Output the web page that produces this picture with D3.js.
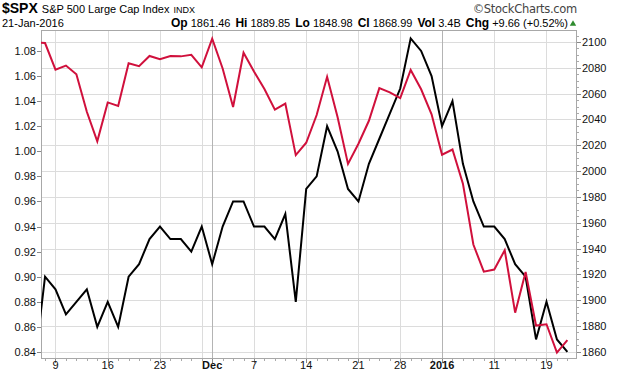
<!DOCTYPE html>
<html>
<head>
<meta charset="utf-8">
<script src="https://cdn.jsdelivr.net/npm/d3@7"></script>
<style>
  html, body { margin: 0; padding: 0; background: #fff; }
  svg { display: block; font-family: "Liberation Sans", Arial, sans-serif; }
</style>
</head>
<body>
<svg id="chart" width="620" height="376"></svg>
<script>
// ---------- data ----------
const dates = ["2015-11-05","2015-11-06","2015-11-09","2015-11-10","2015-11-11","2015-11-12","2015-11-13",
  "2015-11-16","2015-11-17","2015-11-18","2015-11-19","2015-11-20","2015-11-23","2015-11-24","2015-11-25",
  "2015-11-27","2015-11-30","2015-12-01","2015-12-02","2015-12-03","2015-12-04","2015-12-07","2015-12-08",
  "2015-12-09","2015-12-10","2015-12-11","2015-12-14","2015-12-15","2015-12-16","2015-12-17","2015-12-18",
  "2015-12-21","2015-12-22","2015-12-23","2015-12-24","2015-12-28","2015-12-29","2015-12-30","2015-12-31",
  "2016-01-04","2016-01-05","2016-01-06","2016-01-07","2016-01-08","2016-01-11","2016-01-12","2016-01-13",
  "2016-01-14","2016-01-15","2016-01-19","2016-01-20","2016-01-21"];

// S&P 500 close (right axis, red)
const spxClose = [2099.93,2099.20,2078.58,2081.72,2075.00,2045.97,2023.04,
  2053.19,2050.44,2083.58,2081.24,2089.17,2086.59,2089.14,2088.87,
  2090.11,2080.41,2102.63,2079.51,2049.62,2091.69,2077.07,2063.59,
  2047.62,2052.23,2012.37,2021.94,2043.41,2073.07,2041.89,2005.55,
  2021.15,2038.97,2064.29,2060.99,2056.50,2078.36,2063.36,2043.94,
  2012.66,2016.71,1990.26,1943.09,1922.03,1923.67,1938.68,1890.28,
  1921.84,1880.33,1881.33,1859.33,1868.99];

// comparison line (left axis, black)
const ratioValues = [0.83,0.90,0.89,0.87,0.88,0.89,0.86,
  0.88,0.86,0.90,0.91,0.93,0.94,0.93,0.93,
  0.92,0.94,0.91,0.94,0.96,0.96,0.94,0.94,
  0.93,0.95,0.88,0.97,0.98,1.02,1.00,0.97,
  0.96,0.99,1.01,1.03,1.05,1.09,1.08,1.06,
  1.02,1.04,0.99,0.96,0.94,0.94,0.93,0.91,
  0.90,0.85,0.88,0.85,0.84];

const leftTicks = [0.84,0.86,0.88,0.90,0.92,0.94,0.96,0.98,1.00,1.02,1.04,1.06,1.08];
const rightTicks = [1860,1880,1900,1920,1940,1960,1980,2000,2020,2040,2060,2080,2100];
const xTickDates = ["2015-11-09","2015-11-16","2015-11-23","2015-12-01","2015-12-07","2015-12-14",
  "2015-12-21","2015-12-28","2016-01-04","2016-01-11","2016-01-19"];
const xTickLabels = ["9","16","23","Dec","7","14","21","28","2016","11","19"];
const weekGridDates = ["2015-11-09","2015-11-16","2015-11-23","2015-11-30","2015-12-07","2015-12-14",
  "2015-12-21","2015-12-28","2016-01-11","2016-01-19"];
const monthGridDates = ["2015-12-01","2016-01-04"];

// ---------- layout ----------
const svg = d3.select("#chart");
const L = 41, R = 577, T = 30, B = 359;
const idx = d => dates.indexOf(d);

const x = d3.scaleLinear().domain([0.613, 51.92]).range([L, R]);
const yL = d3.scaleLinear().domain([0.8344, 1.0967]).range([B, T]);
const yR = d3.scaleLinear().domain([1854.4, 2109.3]).range([B, T]);

// clip
svg.append("defs").append("clipPath").attr("id","plotclip")
  .append("rect").attr("x", L).attr("y", T).attr("width", R - L).attr("height", B - T);

// horizontal grid (right-axis ticks)
svg.append("g").selectAll("line").data(rightTicks).join("line")
  .attr("x1", L).attr("x2", R)
  .attr("y1", d => Math.round(yR(d)) + 0.5).attr("y2", d => Math.round(yR(d)) + 0.5)
  .attr("stroke", "#dcdcdc").attr("stroke-width", 1);

// vertical grid
svg.append("g").selectAll("line").data(weekGridDates).join("line")
  .attr("x1", d => Math.round(x(idx(d))) + 0.5).attr("x2", d => Math.round(x(idx(d))) + 0.5)
  .attr("y1", T).attr("y2", B)
  .attr("stroke", "#dcdcdc").attr("stroke-width", 1);
svg.append("g").selectAll("line").data(monthGridDates).join("line")
  .attr("x1", d => Math.round(x(idx(d))) + 0.5).attr("x2", d => Math.round(x(idx(d))) + 0.5)
  .attr("y1", T).attr("y2", B)
  .attr("stroke", "#b4b4b4").attr("stroke-width", 1);

// frame
svg.append("rect").attr("x", L + 0.5).attr("y", T + 0.5).attr("width", R - L - 1).attr("height", B - T - 1)
  .attr("fill", "none").attr("stroke", "#a8a8a8");

// left axis
const gl = svg.append("g").attr("transform", `translate(${L},0)`);
gl.selectAll("line").data(leftTicks).join("line")
  .attr("x1", -4).attr("x2", 0)
  .attr("y1", d => Math.round(yL(d)) + 0.5).attr("y2", d => Math.round(yL(d)) + 0.5)
  .attr("stroke", "#888");
gl.selectAll("text").data(leftTicks).join("text")
  .attr("x", -5).attr("y", d => yL(d) + 4)
  .attr("text-anchor", "end").attr("font-size", 11).attr("fill", "#111")
  .text(d => d3.format(".2f")(d));

// right axis
const gr = svg.append("g").attr("transform", `translate(${R},0)`);
const rightMinor = d3.range(1860, 2106, 5);
gr.selectAll("line.mn").data(rightMinor).join("line").attr("class","mn")
  .attr("x1", 0).attr("x2", 2)
  .attr("y1", d => Math.round(yR(d)) + 0.5).attr("y2", d => Math.round(yR(d)) + 0.5)
  .attr("stroke", "#aaa");
gr.selectAll("line.mj").data(rightTicks).join("line").attr("class","mj")
  .attr("x1", 0).attr("x2", 4)
  .attr("y1", d => Math.round(yR(d)) + 0.5).attr("y2", d => Math.round(yR(d)) + 0.5)
  .attr("stroke", "#888");
gr.selectAll("text").data(rightTicks).join("text")
  .attr("x", 5).attr("y", d => yR(d) + 4)
  .attr("text-anchor", "start").attr("font-size", 11).attr("fill", "#111")
  .text(d => d);

// bottom axis
const gb = svg.append("g").attr("transform", `translate(0,${B})`);
gb.selectAll("line.day").data(dates.filter((d,i) => x(i) >= L && x(i) <= R)).join("line").attr("class","day")
  .attr("x1", d => Math.round(x(idx(d))) + 0.5).attr("x2", d => Math.round(x(idx(d))) + 0.5)
  .attr("y1", 0).attr("y2", 2).attr("stroke", "#aaa");
gb.selectAll("line.lab").data(xTickDates).join("line").attr("class","lab")
  .attr("x1", d => Math.round(x(idx(d))) + 0.5).attr("x2", d => Math.round(x(idx(d))) + 0.5)
  .attr("y1", 0).attr("y2", 4).attr("stroke", "#888");
gb.selectAll("text").data(xTickDates).join("text")
  .attr("x", d => x(idx(d))).attr("y", 10)
  .attr("text-anchor", "middle").attr("font-size", 11).attr("fill", "#111")
  .attr("font-weight", (d,i) => (xTickLabels[i] === "Dec" || xTickLabels[i] === "2016") ? "bold" : "normal")
  .text((d,i) => xTickLabels[i]);

// lines
const plot = svg.append("g").attr("clip-path", "url(#plotclip)");
const lineL = d3.line().x((d,i) => x(i)).y(d => yL(d));
const lineR = d3.line().x((d,i) => x(i)).y(d => yR(d));
plot.append("path").datum(ratioValues).attr("d", lineL)
  .attr("fill", "none").attr("stroke", "#000").attr("stroke-width", 2).attr("stroke-linejoin", "miter");
plot.append("path").datum(spxClose).attr("d", lineR)
  .attr("fill", "none").attr("stroke", "#d0103c").attr("stroke-width", 2).attr("stroke-linejoin", "miter");

// header
const h1 = svg.append("text").attr("x", 2).attr("y", 13);
h1.append("tspan").attr("font-size", 14).attr("font-weight", "bold").text("$SPX");
h1.append("tspan").attr("font-size", 11).attr("dx", 4).text("S&P 500 Large Cap Index");
h1.append("tspan").attr("font-size", 9).attr("dx", 4).text("INDX");

svg.append("text").attr("x", R).attr("y", 13).attr("text-anchor", "end")
  .attr("font-size", 11.5).attr("fill", "#444").attr("font-family", "DejaVu Sans, sans-serif")
  .attr("letter-spacing", -0.3)
  .text("\u00A9StockCharts.com");

svg.append("text").attr("x", 2).attr("y", 27).attr("font-size", 11).text("21-Jan-2016");

const stats = [["Op","1861.46"],["Hi","1889.85"],["Lo","1848.98"],["Cl","1868.99"],["Vol","3.4B"],["Chg","+9.66 (+0.52%)"]];
const h2 = svg.append("text").attr("x", R - 9).attr("y", 27).attr("text-anchor", "end");
stats.forEach((s, i) => {
  h2.append("tspan").attr("font-size", 12).attr("font-weight", "bold").attr("dx", i === 0 ? 0 : 5).text(s[0]);
  h2.append("tspan").attr("font-size", 11).attr("dx", 3).text(s[1]);
});
svg.append("path").attr("d", d3.symbol(d3.symbolTriangle, 18)())
  .attr("transform", `translate(${R - 4},24)`).attr("fill", "#2e8b2e");
</script>
</body>
</html>
